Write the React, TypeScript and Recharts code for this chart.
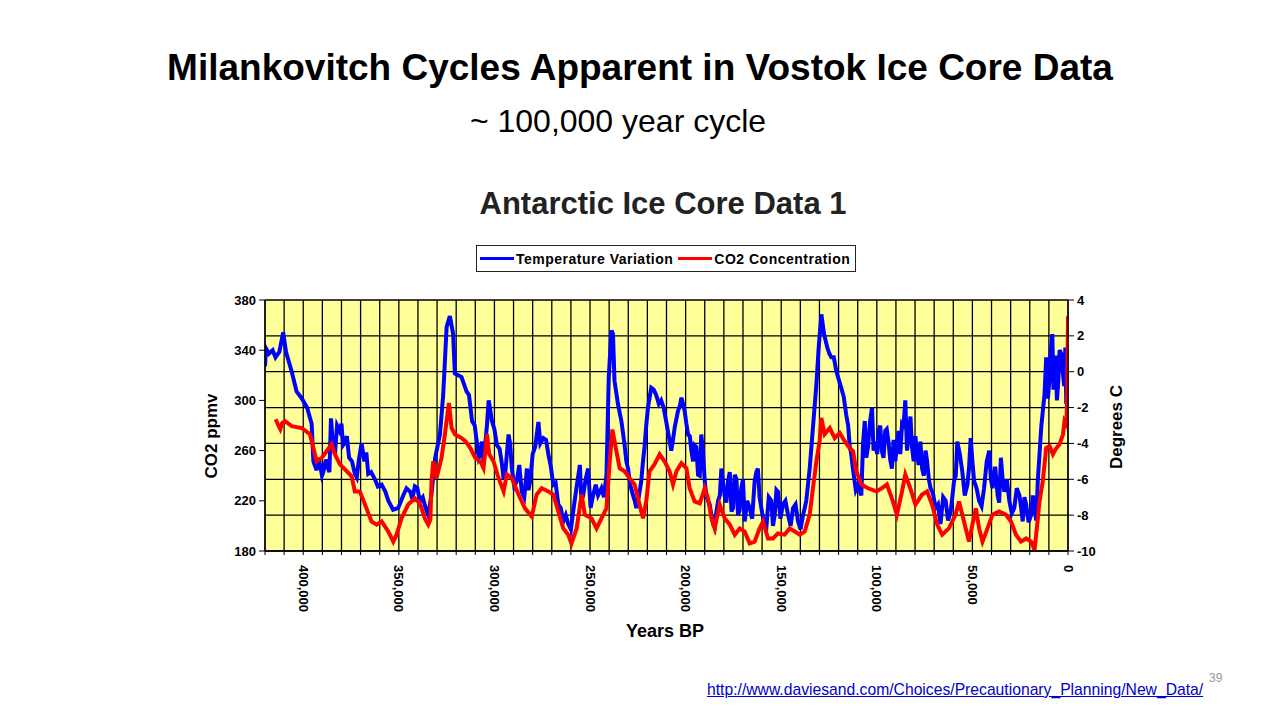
import React from 'react';
import { LineChart, Line, XAxis, YAxis, CartesianGrid } from 'recharts';

const FONT = 'Arial, "Liberation Sans", Helvetica, sans-serif';

// Temperature variation (degrees C) – years BP in thousands (main readings)
const tempYearsK = [
  420.0, 419.5, 418, 416, 414.5, 412.5, 410.5, 409, 406, 403.5, 401, 398, 395.6, 394.7, 393, 391, 389.5, 387,
  385.5, 384.5, 383.4, 381, 380, 378.5, 376, 373, 371, 369.5, 368, 366, 362.5, 359, 355.5, 353, 350.3, 347.7,
  344, 341.6, 339, 336, 334.6, 333, 331, 328.5, 326.8, 325, 323.3, 321.6, 320.7, 317.2, 314.6, 313.3, 311.7,
  309, 307.4, 305.7, 304, 303, 301.3, 298.7, 296, 294.4, 292.6, 290.9, 288.3, 285.7, 283, 281.3, 278.7, 277,
  274.4, 271.8, 269.2, 266.6, 264, 261.4, 258.8, 255.3, 253.6, 251, 248.4, 245.8, 244, 241.4, 240.2, 238.8,
  238, 237.2, 235.4, 233.6, 231.9, 230.1, 227.5, 225.8, 223.2, 221.5, 219.7, 218, 215.4, 212.8, 210.2, 207.5,
  205.7, 204, 202.2, 200.5, 198.7, 197, 195.3, 193.5, 191.8, 190, 188.3, 186.5, 184.8, 183, 181.3, 179.6,
  177.8, 176, 174.3, 172.6, 170.9, 169.1, 166.5, 163.9, 162.2, 160.4, 157.8, 155.2, 153.4, 151.7, 149.1,
  146.4, 143.8, 141.2, 138.6, 136.9, 135.1, 133.4, 131.6, 130.4, 129, 127.6, 125.9, 123.8, 121.2, 118.6, 116,
  114.2, 112.5, 109.8, 108.1, 106.3, 105.5, 104.6, 103.5, 102.5, 100.9, 99, 97.4, 95.6, 93.9, 92.1, 89.5,
  86.8, 85.1, 83.3, 81.6, 79, 76.3, 73.7, 71.9, 69.3, 66.7, 64, 61.4, 59.6, 57.9, 55.3, 52.6, 50.9, 49.1,
  46.5, 43.9, 41.2, 39.5, 36.8, 35.1, 33.3, 30.7, 28.1, 25.4, 23.7, 21.9, 19.3, 17.5, 15.8, 14, 12.3, 11.4,
  9.6, 8.2, 7, 5.8, 4.4, 2.6, 1.4, 0.9,
];
const tempDegC = [
  0.3, 1.3, 1.0, 1.2, 0.8, 1.1, 2.2, 1.1, 0.0, -1.1, -1.45, -2.0, -2.9, -5.0, -5.5, -5.3, -5.6, -5.4,
  -2.6, -4.0, -4.6, -3.3, -2.9, -4.0, -4.8, -5.7, -5.0, -4.0, -5.0, -5.7, -6.0, -6.3, -7.2, -7.7, -7.6, -6.9,
  -6.7, -6.4, -7.2, -7.6, -8.0, -6.9, -4.8, -3.5, -1.3, 2.5, 3.1, 2.1, -0.1, -0.3, -1.1, -1.3, -2.75,
  -4.1, -4.6, -5.0, -3.1, -1.6, -2.75, -4.1, -5.2, -5.75, -3.5, -5.4, -6.1, -6.7, -5.4, -6.1, -4.2, -2.8,
  -3.7, -4.6, -6.3, -7.4, -8.35, -8.5, -7.8, -5.2, -6.9, -5.4, -6.9, -6.9, -6.5, -5.75, -0.3, 2.3,
  2.1, -0.5, -1.8, -2.75, -4.1, -5.4, -6.9, -7.6, -6.1, -4.2, -2.0, -0.9, -1.3, -1.6, -2.75, -4.4,
  -3.1, -2.2, -1.45, -2.2, -3.5, -4.4, -4.1, -5.75, -3.5, -6.1, -7.2, -8.0, -8.7, -7.2, -5.4, -6.9,
  -6.1, -7.8, -5.75, -8.0, -6.5, -8.35, -7.6, -6.1, -5.4, -7.6, -8.7, -7.2, -8.0, -6.7, -7.4,
  -8.0, -7.6, -8.35, -8.0, -7.2, -5.4, -3.1, -0.7, 1.35, 3.2, 2.1, 1.35, 0.8, 0.05, -0.9, -2.4,
  -4.1, -5.4, -6.3, -6.9, -2.75, -4.8, -4.2, -2.75, -2.0, -3.9, -3.3, -4.4, -3.3, -3.9, -5.4, -4.1,
  -2.9, -1.6, -3.5, -4.2, -4.6, -5.4, -5.0, -6.5, -7.6, -8.5, -7.2, -7.8, -6.1, -3.9, -5.55, -6.3, -3.7, -6.1,
  -7.2, -6.5, -4.4, -6.5, -6.9, -4.8, -6.7, -7.2, -7.6, -6.9, -8.35, -7.4, -8.0, -7.6, -6.1, -3.1, -1.3, 0.8,
  -0.3, 2.1, -0.3, -1.6, 1.2, -0.15, 1.35, -1.8,
];

// Extra readings of the noisy temperature band (upper / lower excursions)
const tempBandYearsK = [
  392, 390.2, 388.2, 386.3, 382.3, 379.2, 377.2, 374.5, 372, 367, 364.5, 361, 357, 346, 343, 340.3, 337.5, 335.3,
  310.3, 308.2, 306.5, 300, 297.3, 295.2, 293.5, 291.8, 289.6, 287, 284.4, 282.2, 280, 276, 273, 270.5, 268,
  265.3, 262.7, 260, 257, 254.5, 252.3, 249.7, 247, 242.7,
  231, 229, 226.6, 224.5, 222.3, 220.6, 216.7, 214, 211.5, 208.8, 206.6, 203, 201.3, 199.6, 197.8, 196.1,
  194.4, 192.6, 190.9, 189.2, 187.4, 185.6, 183.9, 182.1, 180.4, 178.7, 176.9, 175.2, 173.4, 171.7, 170,
  167.8, 165.2, 163, 161.3, 159.1, 156.5, 154.3, 152.5, 150.4, 147.8, 145.1, 142.5, 139.9, 137.7,
  124.8, 122.5, 120, 117.3, 115, 113.4,
  111, 107.2, 101.7, 99.8, 98.2, 96.5, 94.8, 93, 91.2, 90.3, 88.6, 87.7, 86, 84.2, 82.4, 80.7, 79.8, 78.1,
  77.2, 75.4, 74.5, 72.8, 70.6, 68, 65.3, 62.7, 60.5, 58.7, 56.6, 54, 51.8, 50, 47.8, 45.2, 42.5, 40.3,
  38.1, 36, 34.2, 32, 29.4, 26.8, 24.5, 22.8, 20.6, 18.4, 16.6,
  13, 10.5, 9, 7.6, 6.4, 5.1, 3.5, 2,
];
const tempBandDegC = [
  -4.8, -5.8, -4.9, -5.6, -3.0, -4.1, -3.6, -5.0, -5.9, -4.5, -5.6, -6.4, -6.7, -6.5, -7.1, -6.5, -7.0, -7.8,
  -3.0, -4.8, -3.9, -3.2, -4.3, -6.0, -4.6, -4.0, -6.4, -5.2, -7.0, -6.6, -4.6, -4.0, -3.8, -5.3, -6.2,
  -7.6, -8.0, -8.8, -6.4, -7.2, -6.0, -7.6, -6.3, -7.0,
  -5.0, -6.3, -7.2, -7.0, -5.0, -3.0, -1.0, -1.8, -2.0, -3.6, -3.8, -1.9, -1.8, -2.9, -3.6, -5.0,
  -4.2, -5.8, -4.5, -6.9, -7.4, -8.5, -7.8, -6.9, -6.2, -7.3, -5.6, -7.6, -6.0, -7.7, -6.0,
  -7.2, -8.2, -5.6, -7.0, -8.4, -7.0, -8.6, -6.6, -8.2, -7.2, -8.6, -7.4, -8.8, -7.6,
  1.0, 0.8, -0.4, -1.4, -3.0, -4.6,
  -6.6, -4.0, -4.4, -4.6, -3.0, -4.8, -3.2, -4.9, -3.8, -5.0, -3.3, -4.6, -3.0, -4.4, -2.5, -5.0, -3.6, -5.2,
  -3.9, -5.8, -4.4, -6.0, -6.8, -7.4, -7.0, -8.3, -7.0, -5.8, -4.6, -6.9, -5.4, -5.0, -6.5, -7.5, -5.0, -6.0,
  -5.3, -7.3, -6.0, -6.0, -7.9, -6.5, -7.6, -7.0, -8.4, -6.9, -8.3,
  -2.0, -1.5, 1.2, -1.0, 0.9, -0.6, 1.0, -0.8,
];

// CO2 concentration (ppmv) – years BP in thousands
const co2YearsK = [
  414.4, 413, 412, 411, 409.5, 406, 400.8, 396.5, 394.7, 393, 390.4, 387.8, 385.2, 383.4, 380.8, 378.2, 374.7,
  373, 370.4, 367.7, 364.3, 361.6, 359, 355.5, 352.9, 351.2, 348.6, 345.1, 341.6, 339, 336.4, 334.6, 333.5,
  332.9, 332, 330.3, 327.7, 325.9, 323.8, 322.4, 320.7, 317.2, 315.2, 312.6, 310, 307.4, 305.7, 303.9, 302.7,
  300.5, 297.8, 295.2, 293.5, 290.9, 287.4, 284, 280.5, 277.9, 275.3, 271.8, 269.2, 266.6, 264, 261.4, 259.7,
  257, 254.4, 252.7, 249.2, 246.6, 244, 241.4, 239.7, 238.3, 236.2, 234.5, 231.9, 229.3, 226.7, 224.1, 222.3,
  220.6, 218.9, 216.3, 213.6, 211, 208.4, 206.6, 204.8, 202.2, 199.6, 197.9, 195.3, 192.6, 190, 188.3, 186.5,
  184.8, 182.2, 179.6, 176.9, 174.3, 171.7, 169.1, 166.5, 163.9, 161.3, 159.5, 156.9, 154.3, 151.7, 148.2,
  145.6, 142.9, 140.3, 137.7, 135.1, 133.4, 131.6, 129.9, 129, 127.3, 124.6, 122, 119.4, 116.8, 114.2, 112.4,
  110.7, 108.1, 104.6, 100.2, 97.4, 94.7, 92.1, 89.5, 86.8, 85.1, 82.5, 79.8, 76.3, 73.7, 71.1, 68.4, 65.8,
  62.3, 58.8, 57, 54.4, 51.8, 50, 48.2, 46.5, 44.7, 42.1, 39.5, 36, 32.5, 29.8, 27.2, 24.6, 21.9, 19.3, 17.5,
  16.3, 14.9, 13.2, 11.4, 9.6, 7.9, 6.1, 4.4, 2.6, 1.8, 0.9, 0.5, 0,
];
const co2Ppmv = [
  285, 280, 277, 282, 283.5, 279.5, 278, 273, 262, 251.5, 254, 259.5, 265, 257, 249, 245, 239.5,
  227.5, 227.5, 217, 203.5, 201, 203.5, 195.5, 187.5, 193, 206, 217, 222, 218, 206, 201, 205,
  235.5, 251.5, 238, 254, 273, 298, 278, 273, 270, 267.5, 262, 254, 251.5, 246, 273, 257,
  251.5, 238, 227.5, 241, 238, 225, 214, 207.5, 225, 230, 227.5, 225, 211.5, 198, 193, 186,
  198, 225, 209, 206, 198, 206, 214, 251.5, 276.8, 259.5, 246, 243.5, 238, 233, 217, 206,
  219.5, 243.5, 249, 257, 251.5, 243.5, 233, 243.5, 250, 246, 230, 219.5, 218, 230, 222, 206,
  198, 217, 206, 201, 193, 198, 195.5, 186, 187.5, 198, 203.5, 190, 190, 194, 193,
  198, 195.5, 193, 195.5, 209, 230, 251.5, 267.5, 286, 273, 278, 270, 274, 267.5, 262, 259.5,
  243.5, 233, 230, 227.5, 230, 233, 222, 209, 227.5, 241, 230, 217, 225, 227.5, 217, 201, 193,
  198, 209, 219.5, 203.5, 187.5, 201, 214, 198, 187.5, 198, 209, 211.5, 209, 203.5, 193, 187.5, 190, 187.5, 181,
  198, 219.5, 235.5, 262, 263.5, 257, 262, 265, 273, 283.5, 281, 297, 367,
];

const co2Ticks = [180, 220, 260, 300, 340, 380];
const tempTicks = [-10, -8, -6, -4, -2, 0, 2, 4];
const yearLabelTicks = [0, 50000, 100000, 150000, 200000, 250000, 300000, 350000, 400000];
const yearGridTicks = [
  0, 10000, 20000, 30000, 40000, 50000, 60000, 70000, 80000, 90000, 100000, 110000, 120000, 130000, 140000,
  150000, 160000, 170000, 180000, 190000, 200000, 210000, 220000, 230000, 240000, 250000, 260000, 270000,
  280000, 290000, 300000, 310000, 320000, 330000, 340000, 350000, 360000, 370000, 380000, 390000, 400000,
  410000, 420000,
];

const tempData = [
  ...tempYearsK.map((y, i) => ({ year: y * 1000, temp: tempDegC[i] })),
  ...tempBandYearsK.map((y, i) => ({ year: y * 1000, temp: tempBandDegC[i] })),
].sort((a, b) => b.year - a.year);
const co2Data = co2YearsK.map((y, i) => ({ year: y * 1000, co2: co2Ppmv[i] }));

const XTick = (props: any) => {
  const { x, y, payload } = props;
  if (!yearLabelTicks.includes(payload.value)) return <g />;
  const label = payload.value.toLocaleString('en-US');
  return (
    <text
      x={x}
      y={y}
      transform={`rotate(90, ${x}, ${y})`}
      textAnchor="start"
      dominantBaseline="central"
      fontFamily={FONT}
      fontWeight="bold"
      fontSize={13}
      fill="#000"
    >
      {label}
    </text>
  );
};

const tickStyle = { fill: '#000', fontSize: 13, fontWeight: 'bold', fontFamily: FONT } as any;

export default function App() {
  const plotLeft = 265;
  const plotRight = 1068;
  const plotTop = 300;
  const plotBottom = 551;
  const axisW = 50;
  const xAxisH = 60;
  return (
    <div
      style={{
        position: 'absolute',
        left: 0,
        top: 0,
        width: 1280,
        height: 720,
        background: '#fff',
        overflow: 'hidden',
        fontFamily: FONT,
      }}
    >
      <div style={{ position: 'absolute', left: 0, top: 68 - 22, width: 1280, textAlign: 'center', fontSize: 37, lineHeight: '44px', fontWeight: 'bold', color: '#000' }}>
        Milankovitch Cycles Apparent in Vostok Ice Core Data
      </div>
      <div style={{ position: 'absolute', left: 618 - 200, top: 121 - 19, width: 400, textAlign: 'center', fontSize: 32, lineHeight: '38px', color: '#000' }}>
        ~ 100,000 year cycle
      </div>
      <div style={{ position: 'absolute', left: 663 - 250, top: 204 - 18, width: 500, textAlign: 'center', fontSize: 31, lineHeight: '36px', fontWeight: 'bold', color: '#222' }}>
        Antarctic Ice Core Data 1
      </div>
      <div
        style={{
          position: 'absolute',
          left: 476,
          top: 245,
          width: 378,
          height: 25,
          border: '1px solid #222',
          display: 'flex',
          alignItems: 'center',
          fontSize: 14,
          letterSpacing: 0.5,
          fontWeight: 'bold',
          color: '#000',
          whiteSpace: 'nowrap',
        }}
      >
        <span style={{ display: 'inline-block', width: 34, height: 3, background: '#0000FF', marginLeft: 3, marginRight: 2 }} />
        <span>Temperature Variation</span>
        <span style={{ display: 'inline-block', width: 34, height: 3, background: '#FF0000', marginLeft: 5, marginRight: 2 }} />
        <span>CO2 Concentration</span>
      </div>

      <div style={{ position: 'absolute', left: 0, top: 0 }}>
        <LineChart
          width={1280}
          height={720}
          margin={{
            top: plotTop,
            left: plotLeft - axisW,
            right: 1280 - plotRight - axisW,
            bottom: 720 - plotBottom - xAxisH,
          }}
        >
          <CartesianGrid
            xAxisId="x"
            yAxisId="temp"
            stroke="#000"
            strokeWidth={1.3}
            strokeOpacity={1}
            fill="#FFFF99"
            fillOpacity={1}
          />
          <XAxis
            xAxisId="x"
            type="number"
            dataKey="year"
            domain={[0, 420000]}
            reversed
            ticks={yearGridTicks}
            interval={0}
            tick={<XTick />}
            tickSize={4}
            tickMargin={10}
            height={xAxisH}
            axisLine={{ stroke: '#000', strokeWidth: 1.3 }}
            tickLine={{ stroke: '#000' }}
            allowDataOverflow
          />
          <YAxis
            yAxisId="co2"
            orientation="left"
            domain={[180, 380]}
            ticks={co2Ticks}
            interval={0}
            width={axisW}
            tickSize={6}
            tickMargin={3}
            tick={tickStyle}
            axisLine={{ stroke: '#000', strokeWidth: 1.3 }}
            tickLine={{ stroke: '#000' }}
            allowDataOverflow
          />
          <YAxis
            yAxisId="temp"
            orientation="right"
            domain={[-10, 4]}
            ticks={tempTicks}
            interval={0}
            width={axisW}
            tickSize={6}
            tickMargin={3}
            tick={tickStyle}
            axisLine={{ stroke: '#000', strokeWidth: 1.3 }}
            tickLine={{ stroke: '#000' }}
            allowDataOverflow
          />
          <Line
            xAxisId="x"
            yAxisId="temp"
            data={tempData}
            dataKey="temp"
            type="linear"
            stroke="#0000FF"
            strokeWidth={4}
            dot={false}
            activeDot={false}
            isAnimationActive={false}
          />
          <Line
            xAxisId="x"
            yAxisId="co2"
            data={co2Data}
            dataKey="co2"
            type="linear"
            stroke="#FF0000"
            strokeWidth={4}
            dot={false}
            activeDot={false}
            isAnimationActive={false}
          />
        </LineChart>
      </div>

      <div style={{ position: 'absolute', left: 212 - 60, top: 436 - 10, width: 120, height: 20, lineHeight: '20px', textAlign: 'center', transform: 'rotate(-90deg)', fontSize: 17, fontWeight: 'bold', color: '#000' }}>
        CO2 ppmv
      </div>
      <div style={{ position: 'absolute', left: 1117 - 60, top: 427 - 10, width: 120, height: 20, lineHeight: '20px', textAlign: 'center', transform: 'rotate(-90deg)', fontSize: 17, fontWeight: 'bold', color: '#000' }}>
        Degrees C
      </div>
      <div style={{ position: 'absolute', left: 665 - 80, top: 631 - 11, width: 160, height: 22, lineHeight: '22px', textAlign: 'center', fontSize: 18, fontWeight: 'bold', color: '#000' }}>
        Years BP
      </div>

      <div style={{ position: 'absolute', left: 707, top: 681, fontSize: 15.7, lineHeight: '18px', color: '#0000CC', textDecoration: 'underline', whiteSpace: 'nowrap' }}>
        http://www.daviesand.com/Choices/Precautionary_Planning/New_Data/
      </div>
      <div style={{ position: 'absolute', left: 1209, top: 672, fontSize: 12, lineHeight: '13px', color: '#999' }}>
        39
      </div>
    </div>
  );
}
